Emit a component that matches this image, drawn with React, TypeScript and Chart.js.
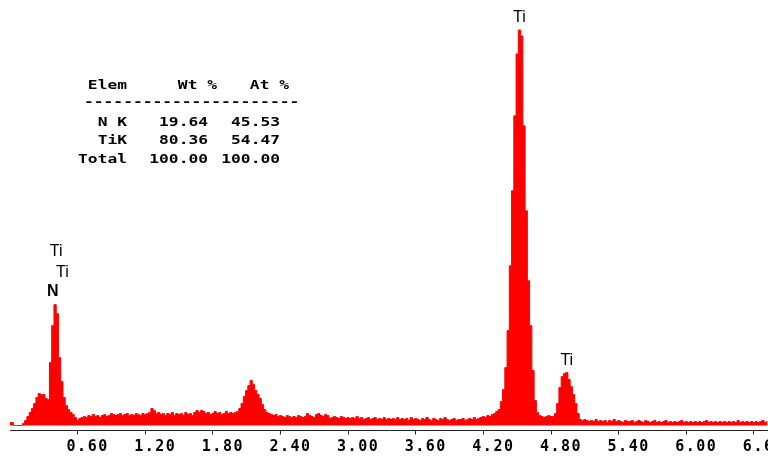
import { useEffect, useRef } from "react";
import { Chart, registerables } from "chart.js";

Chart.register(...registerables);

// EDS spectrum: channel calibration
const CHANNEL_START_KEV = 0;
const CHANNEL_WIDTH_KEV = 0.02;

// Counts per channel (0.00 .. 6.72 keV)
const COUNTS = [
  3, 3, 0, 0, 0, 0, 2, 5, 9, 13, 17, 22, 28, 32, 31, 31, 27, 26, 63, 100, 121, 112, 68, 44, 28,
  20, 16, 13, 11, 8, 5, 7, 8, 9, 8, 10, 9, 11, 9, 10, 8, 10, 11, 9, 10, 12, 11, 10, 11, 12,
  10, 11, 12, 10, 11, 10, 12, 11, 10, 12, 11, 12, 13, 17, 15, 12, 13, 11, 12, 10, 12, 11, 13, 10, 12,
  11, 12, 10, 13, 11, 12, 10, 13, 15, 13, 15, 14, 12, 13, 11, 12, 14, 12, 13, 11, 12, 14, 12, 13, 12,
  13, 14, 17, 22, 29, 35, 40, 45, 41, 35, 31, 27, 21, 16, 13, 12, 11, 10, 11, 9, 10, 9, 8, 10, 9,
  8, 9, 8, 10, 9, 8, 9, 12, 10, 9, 8, 11, 12, 10, 9, 11, 10, 7, 8, 9, 8, 7, 9, 8, 7,
  8, 7, 8, 7, 9, 7, 8, 6, 7, 8, 6, 7, 8, 6, 7, 6, 8, 6, 7, 6, 7, 6, 8, 6, 7,
  6, 7, 5, 8, 6, 7, 6, 5, 7, 6, 8, 6, 5, 7, 6, 5, 7, 6, 8, 6, 5, 6, 7, 5, 6,
  6, 7, 5, 6, 7, 6, 8, 6, 7, 8, 9, 8, 10, 9, 11, 12, 14, 16, 24, 36, 58, 95, 160, 235, 310,
  372, 396, 390, 300, 215, 145, 100, 55, 25, 13, 10, 9, 8, 9, 10, 9, 9, 12, 22, 38, 49, 52, 53, 46, 39,
  31, 22, 12, 6, 5, 6, 5, 4, 5, 4, 6, 4, 5, 4, 5, 3, 5, 4, 6, 4, 5, 4, 3, 5, 4,
  4, 5, 3, 4, 5, 4, 3, 5, 4, 3, 4, 5, 3, 4, 3, 4, 5, 3, 4, 3, 4, 3, 4, 5, 3,
  4, 3, 4, 3, 4, 3, 4, 3, 4, 5, 3, 4, 3, 4, 3, 4, 3, 4, 3, 4, 3, 4, 3, 5, 3,
  4, 3, 4, 3, 4, 3, 4, 3, 4, 5, 3, 4,
];

const X_MIN_KEV = 0;
const X_MAX_KEV = 6.725;
const TICK_VALUES = [0.6, 1.2, 1.8, 2.4, 3.0, 3.6, 4.2, 4.8, 5.4, 6.0, 6.6];

// Peak identification labels
const PEAK_LABEL_TEXT = ["Ti", "Ti", "N", "Ti", "Ti"];
const PEAK_LABEL_KEV = [0.41, 0.465, 0.38, 4.52, 4.94];
const PEAK_LABEL_LEVEL = [174, 153, 134, 408, 65];

// Quantification table
const TABLE_HEADER = ["Elem", "Wt %", "At %"];
const TABLE_ELEM = ["N K", "TiK", "Total"];
const TABLE_WT = ["19.64", "80.36", "100.00"];
const TABLE_AT = ["45.53", "54.47", "100.00"];
const TABLE_RULE = "----------------------";

const MONO = '"DejaVu Sans Mono", "Liberation Mono", monospace';

function drawWide(ctx: CanvasRenderingContext2D, text: string, x: number, y: number, align: CanvasTextAlign) {
  ctx.save();
  ctx.translate(x, y);
  ctx.scale(1.25, 1);
  ctx.textAlign = align;
  ctx.textBaseline = "middle";
  ctx.fillText(text, 0, 0);
  ctx.restore();
}

const overlayPlugin = {
  id: "edsOverlay",
  beforeDraw(chart: any) {
    chart.ctx.letterSpacing = "1.5px";
  },
  afterDraw(chart: any) {
    const ctx: CanvasRenderingContext2D = chart.ctx;
    ctx.save();
    (ctx as any).letterSpacing = "0px";
    ctx.fillStyle = "#000";
    // peak labels
    const xs = chart.scales.x;
    const ys = chart.scales.y;
    ctx.textAlign = "center";
    ctx.textBaseline = "middle";
    PEAK_LABEL_TEXT.forEach((t, i) => {
      ctx.font = (t === "N" ? "bold " : "") + '16px "Liberation Sans", Arial, sans-serif';
      ctx.fillText(t, xs.getPixelForValue(PEAK_LABEL_KEV[i]), ys.getPixelForValue(PEAK_LABEL_LEVEL[i]));
    });
    // table
    ctx.font = "bold 13px " + MONO;
    drawWide(ctx, TABLE_HEADER[0], 127, 86, "right");
    drawWide(ctx, TABLE_HEADER[1], 217, 86, "right");
    drawWide(ctx, TABLE_HEADER[2], 289, 86, "right");
    drawWide(ctx, TABLE_RULE, 84, 103, "left");
    const rowsY = [123, 141, 160];
    TABLE_ELEM.forEach((e, i) => {
      drawWide(ctx, e, 127, rowsY[i], "right");
      drawWide(ctx, TABLE_WT[i], 208, rowsY[i], "right");
      drawWide(ctx, TABLE_AT[i], 280, rowsY[i], "right");
    });
    ctx.restore();
  },
};

export default function App() {
  const ref = useRef<HTMLCanvasElement>(null);
  useEffect(() => {
    document.body.style.margin = "0";
    const points = COUNTS.map((c, i) => ({ x: CHANNEL_START_KEV + i * CHANNEL_WIDTH_KEV, y: c }));
    const chart = new Chart(ref.current!, {
      type: "line",
      data: {
        datasets: [
          {
            data: points,
            stepped: "middle",
            fill: "origin",
            backgroundColor: "#ff0000",
            borderColor: "#ff0000",
            borderWidth: 1,
            pointRadius: 0,
          } as any,
        ],
      },
      options: {
        responsive: false,
        animation: false,
        events: [],
        layout: { padding: { left: 10, right: 0, top: 0, bottom: 0 } },
        plugins: { legend: { display: false }, tooltip: { enabled: false }, title: { display: false } },
        scales: {
          x: {
            type: "linear",
            min: X_MIN_KEV,
            max: X_MAX_KEV,
            afterBuildTicks: (scale: any) => {
              scale.ticks = TICK_VALUES.map((v) => ({ value: v }));
            },
            afterFit: (scale: any) => {
              scale.paddingLeft = 0;
              scale.paddingRight = 0;
            },
            grid: { drawOnChartArea: false, drawTicks: true, tickLength: 4, color: "#222", lineWidth: 1 },
            border: { display: true, color: "#222", width: 1 },
            ticks: {
              autoSkip: false,
              maxRotation: 0,
              minRotation: 0,
              padding: 4,
              labelOffset: 10,
              color: "#000",
              font: { family: MONO, size: 15, weight: "bold", lineHeight: 1.1 },
              callback: (v: any) => Number(v).toFixed(2),
            },
          },
          y: { display: false, min: -5, max: 426 },
        },
      },
      plugins: [overlayPlugin],
    });
    return () => chart.destroy();
  }, []);
  return (
    <div style={{ width: 768, height: 459 }}>
      <canvas ref={ref} width={768} height={459} style={{ display: "block" }} />
    </div>
  );
}
